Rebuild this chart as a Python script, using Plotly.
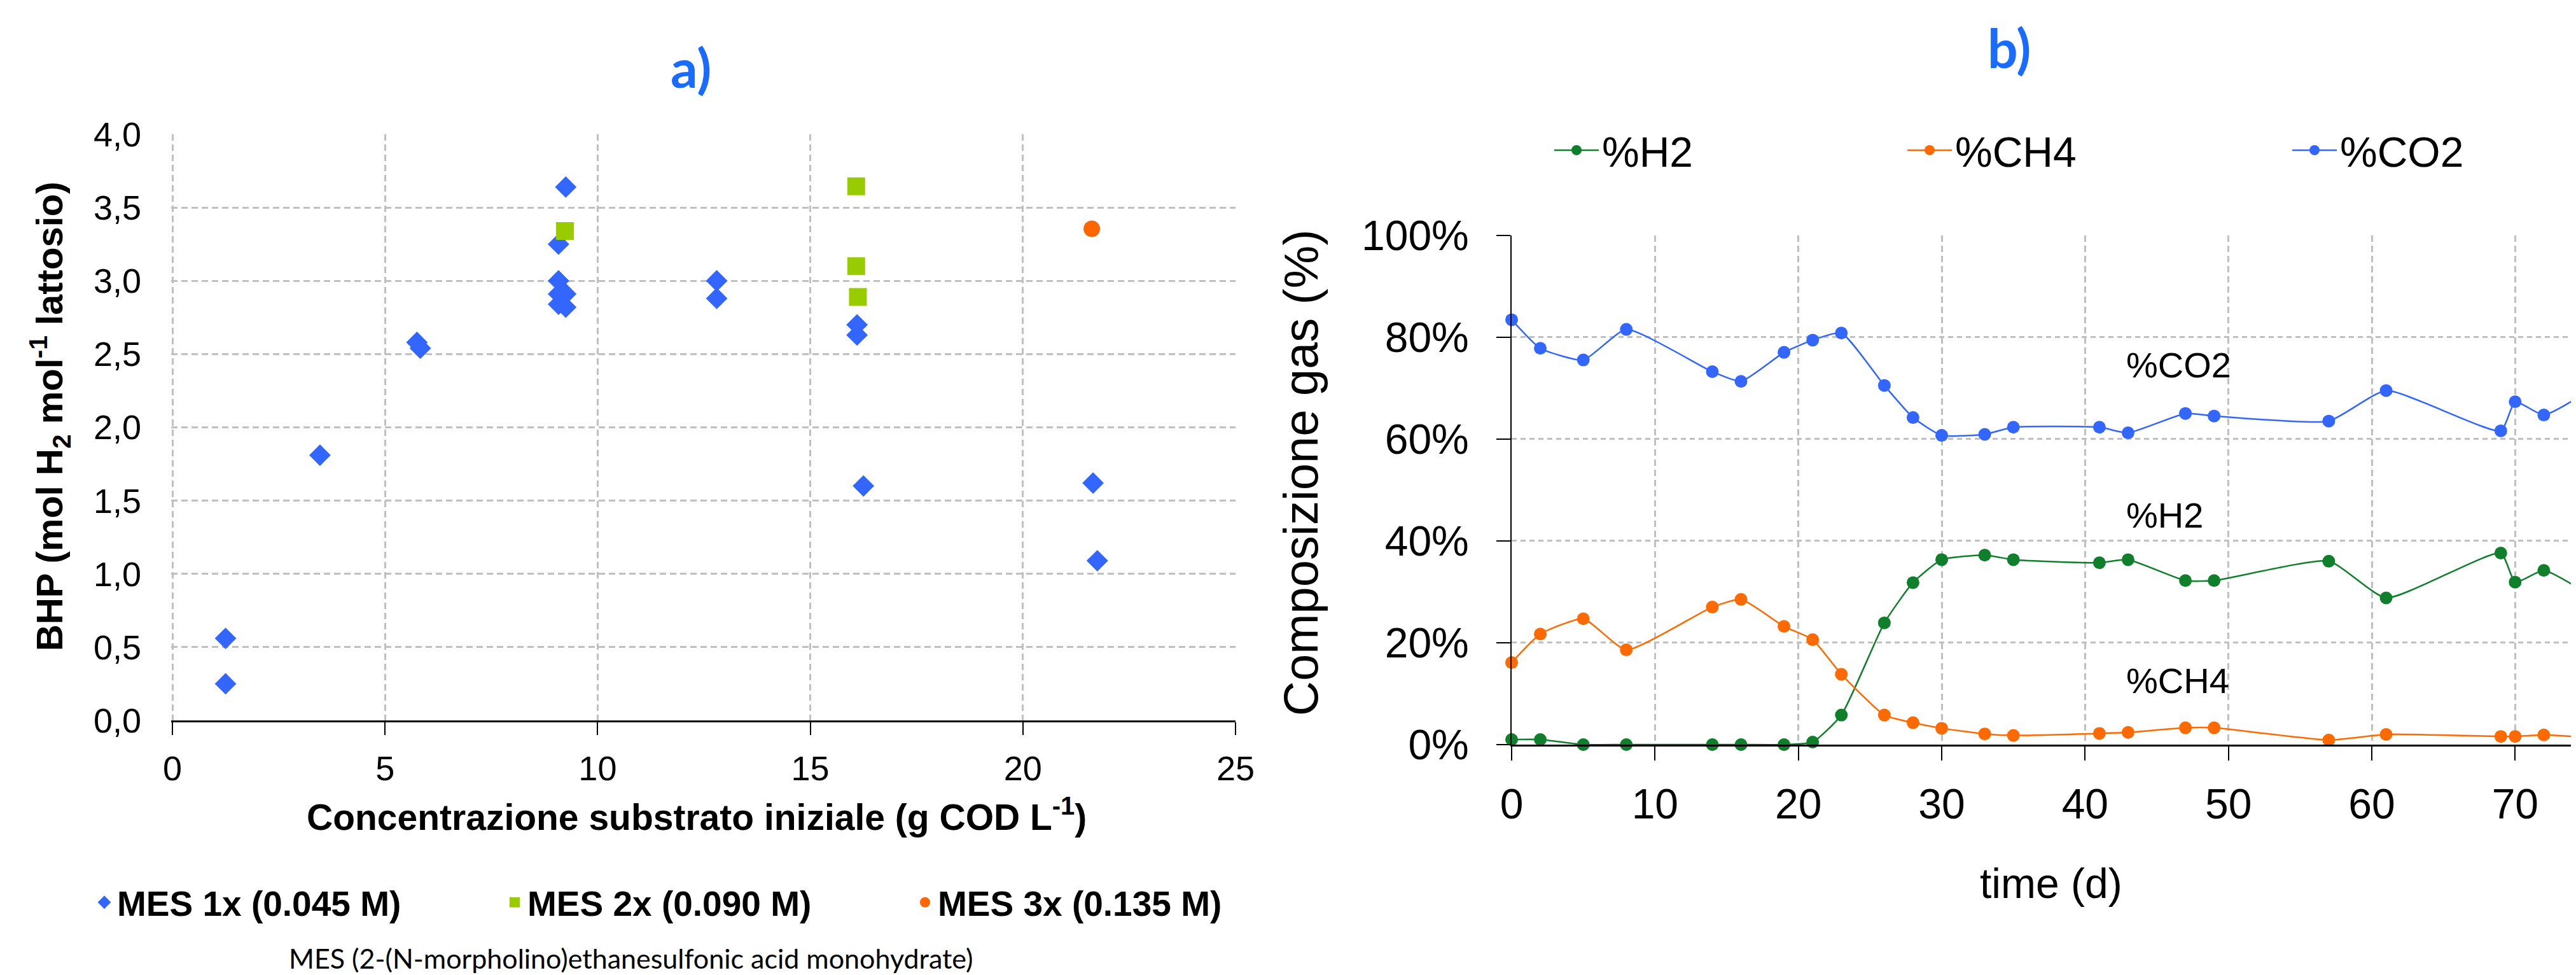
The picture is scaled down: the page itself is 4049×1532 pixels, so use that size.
import plotly.graph_objects as go

# ---------------- Panel a) data ----------------
mes1_x = [1.25, 1.25, 3.47, 5.75, 5.83, 9.08, 9.08, 9.08, 9.08, 9.25, 9.25, 9.25,
          12.8, 12.8, 16.1, 16.1, 16.25, 21.65, 21.75]
mes1_y = [0.56, 0.25, 1.81, 2.58, 2.54, 3.25, 3.00, 2.91, 2.84, 3.64, 2.91, 2.82,
          3.00, 2.88, 2.70, 2.63, 1.60, 1.62, 1.09]
mes2_x = [9.23, 16.08, 16.08, 16.12]
mes2_y = [3.34, 3.645, 3.10, 2.89]
mes3_x = [21.62]
mes3_y = [3.355]

# ---------------- Panel b) data ----------------
days = [0, 2, 5, 8, 14, 16, 19, 21, 23, 26, 28, 30, 33, 35, 41, 43, 47, 49, 57, 61,
        69, 70, 72, 75]
h2 = [1.0, 1.0, 0.0, 0.0, 0.0, 0.0, 0.0, 0.5, 5.8, 23.9, 31.8, 36.3, 37.2, 36.3,
      35.7, 36.3, 32.2, 32.2, 36.0, 28.8, 37.6, 31.9, 34.2, 29.7]
ch4 = [16.1, 21.7, 24.7, 18.6, 27.0, 28.5, 23.2, 20.6, 13.8, 5.8, 4.3, 3.2, 2.1, 1.8,
       2.2, 2.4, 3.3, 3.3, 0.9, 2.0, 1.6, 1.6, 1.9, 1.4]
co2 = [83.4, 77.8, 75.5, 81.5, 73.2, 71.3, 77.0, 79.4, 80.8, 70.5, 64.2, 60.7, 60.9,
       62.3, 62.3, 61.2, 65.0, 64.5, 63.5, 69.5, 61.6, 67.3, 64.7, 69.2]

W, H = 4049, 1532
FONT = "Liberation Sans, Arial, sans-serif"
TITLE_BLUE = "#1a6bff"
GRID = "#c0c0c0"

fig = go.Figure()

# Panel a traces
fig.add_trace(go.Scatter(x=mes1_x, y=mes1_y, mode="markers", name="MES 1x (0.045 M)",
                         marker=dict(symbol="diamond", size=26, color="#3366ff"),
                         xaxis="x", yaxis="y", legend="legend", legendwidth=600,
                         cliponaxis=False))
fig.add_trace(go.Scatter(x=mes2_x, y=mes2_y, mode="markers", name="MES 2x (0.090 M)",
                         marker=dict(symbol="square", size=28, color="#99cc00"),
                         xaxis="x", yaxis="y", legend="legend", legendwidth=600,
                         cliponaxis=False))
fig.add_trace(go.Scatter(x=mes3_x, y=mes3_y, mode="markers", name="MES 3x (0.135 M)",
                         marker=dict(symbol="circle", size=26, color="#ff6600"),
                         xaxis="x", yaxis="y", legend="legend", legendwidth=470,
                         cliponaxis=False))

# Panel b traces
series = [("%H2", h2, "#0f7f2c", 470), ("%CH4", ch4, "#ff6a00", 520), ("%CO2", co2, "#3366ff", 200)]
for name, vals, col, lw in series:
    fig.add_trace(go.Scatter(x=days, y=vals, mode="lines+markers", name=name,
                             line=dict(color=col, width=2.5, shape="spline", smoothing=0.5),
                             marker=dict(symbol="circle", size=20, color=col),
                             xaxis="x2", yaxis="y2", legend="legend2", legendwidth=lw,
                             cliponaxis=False))

ax_common = dict(showgrid=True, gridcolor=GRID, gridwidth=2.5, zeroline=False,
                 tickcolor="black", color="black", automargin=False)

fig.update_layout(
    width=W, height=H,
    margin=dict(l=0, r=0, t=0, b=0, autoexpand=False),
    paper_bgcolor="white", plot_bgcolor="white",
    separators=",.",
    font=dict(family=FONT, color="black"),
    xaxis=dict(domain=[261 / W, 1934 / W], range=[-0.03, 25], tickvals=[0, 5, 10, 15, 20, 25],
               griddash="10px,6px", showline=True, linecolor="black", linewidth=3,
               ticks="outside", ticklen=20, tickwidth=2, ticklabelstandoff=6,
               tickfont=dict(family=FONT, size=54), anchor="y", **ax_common),
    yaxis=dict(domain=[(H - 1124) / H, (H - 203) / H], range=[0, 4], dtick=0.5,
               tickformat=".1f", griddash="10px,6px", showline=False, ticks="",
               ticklabelstandoff=46, tickfont=dict(family=FONT, size=54), anchor="x",
               **ax_common),
    xaxis2=dict(domain=[2368 / W, 1.0], range=[0, 74.6], dtick=10, griddash="10px,6px",
                showline=True, linecolor="black", linewidth=3, ticks="outside", ticklen=22,
                tickwidth=2, ticklabelstandoff=12, tickfont=dict(family=FONT, size=66),
                anchor="y2", **ax_common),
    yaxis2=dict(domain=[(H - 1162) / H, (H - 361.5) / H], range=[0, 100], dtick=20,
                ticksuffix="%", griddash="8px,6px", showline=True, linecolor="black",
                linewidth=2, ticks="outside", ticklen=22, tickwidth=2, ticklabelstandoff=30,
                tickfont=dict(family=FONT, size=66), anchor="x2", **ax_common),
    legend=dict(orientation="h", x=136 / W, xanchor="left", y=(H - 1410) / H,
                yanchor="middle", font=dict(family=FONT, size=55, weight="bold"),
                bgcolor="rgba(0,0,0,0)", itemsizing="trace"),
    legend2=dict(orientation="h", x=2430 / W, xanchor="left", y=(H - 228) / H,
                 yanchor="middle", font=dict(family=FONT, size=66), itemwidth=70,
                 bgcolor="rgba(0,0,0,0)", itemsizing="trace"),
    showlegend=True,
)

annotations = [
    dict(text="<b>a)</b>", x=1078 / W, y=(H - 97) / H, font=dict(family="Lato", size=84, color=TITLE_BLUE)),
    dict(text="<b>b)</b>", x=3150 / W, y=(H - 66) / H, font=dict(family="Lato", size=84, color=TITLE_BLUE)),
    dict(text="<b>Concentrazione substrato iniziale (g COD L<sup>-1</sup>)</b>", x=1087 / W,
         y=(H - 1272) / H, font=dict(family=FONT, size=57)),
    dict(text="<b>BHP (mol H<sub>2</sub> mol<sup>-1</sup> lattosio)</b>", x=70 / W, y=(H - 646) / H,
         textangle=-90, font=dict(family=FONT, size=58)),
    dict(text="MES (2-(N-morpholino)ethanesulfonic acid monohydrate)", x=984 / W, y=(H - 1497) / H,
         font=dict(family="Lato", size=43)),
    dict(text="Composizione gas (%)", x=2036 / W, y=(H - 735) / H, textangle=-90,
         font=dict(family=FONT, size=76)),
    dict(text="time (d)", x=3216 / W, y=(H - 1380) / H, font=dict(family=FONT, size=66)),
]
for a in annotations:
    a.update(xref="paper", yref="paper", showarrow=False, xanchor="center", yanchor="middle")

for txt, yv in [("%CO2", 74.5), ("%H2", 45.0), ("%CH4", 12.5)]:
    annotations.append(dict(text=txt, x=42.8, y=yv, xref="x2", yref="y2", showarrow=False,
                            xanchor="left", yanchor="middle", font=dict(family=FONT, size=56)))

fig.update_layout(annotations=annotations)
fig.write_html("out.html")
